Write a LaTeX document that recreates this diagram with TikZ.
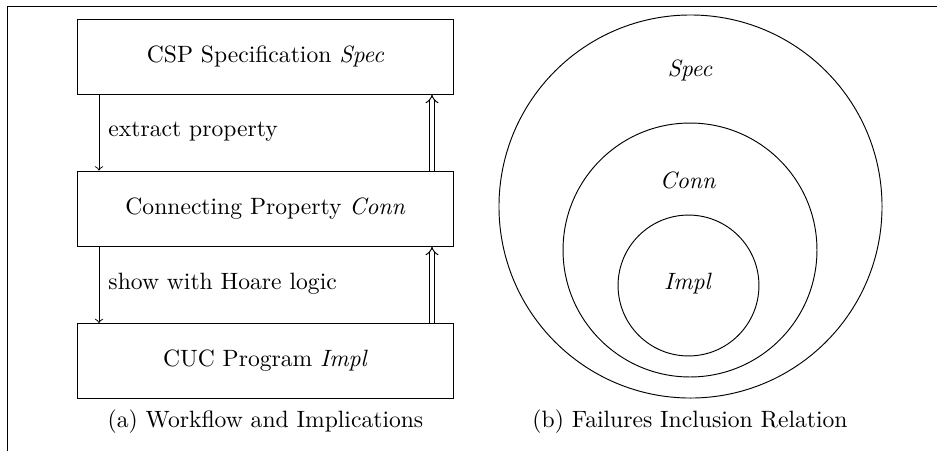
\documentclass[tikz,border=0pt]{standalone}
\usetikzlibrary{arrows}
\begin{document}
\begin{tikzpicture}[x=0.4237pt,y=-0.4237pt,
  stagebox/.style={draw,rectangle,minimum width=159.7pt,minimum height=31.8pt,inner sep=0pt},
  setcircle/.style={draw,circle,inner sep=0pt},
  flowarrow/.style={->},
  implarrow/.style={-implies,double equal sign distance},
  steplabel/.style={anchor=west,inner sep=0pt},
  capt/.style={inner sep=0pt}]
\useasboundingbox (0,0) rectangle (937,451);
\coordinate (fl) at (7,451);
\coordinate (fc) at (7,6);
\coordinate (fr) at (937,6);
\draw (fl) -- (fc) -- (fr);
% boxes
\node[stagebox] (spec) at (265.5,56.5) {CSP Specification \textit{Spec}};
\node[stagebox] (conn) at (265.5,208.5) {Connecting Property \textit{Conn}};
\node[stagebox] (impl) at (265.5,361) {CUC Program \textit{Impl}};
% arrows
\draw[flowarrow] (spec.south west -| 99,0) -- (conn.north west -| 99,0);
\draw[flowarrow] (conn.south west -| 99,0) -- (impl.north west -| 99,0);
\draw[implarrow] (conn.north west -| 432,0) -- (spec.south west -| 432,0);
\draw[implarrow] (impl.north west -| 432,0) -- (conn.south west -| 432,0);
\node[steplabel] (l1) at (108,132) {extract property};
\node[steplabel] (l2) at (108,284) {show with Hoare logic};
\node[capt] (ca) at (265.5,422) {(a) Workflow and Implications};
% circles
\node[setcircle,minimum size=162.3pt] (cs) at (690.5,206.5) {};
\node[setcircle,minimum size=107.6pt] (cc) at (690,250) {};
\node[setcircle,minimum size=59.7pt] (ci) at (688.5,285.5) {};
\node (ts) at (690,70) {\textit{Spec}};
\node (tc) at (688,180) {\textit{Conn}};
\node (ti) at (688,284) {\textit{Impl}};
\node[capt] (cb) at (690,422) {(b) Failures Inclusion Relation};
\end{tikzpicture}
\end{document}
